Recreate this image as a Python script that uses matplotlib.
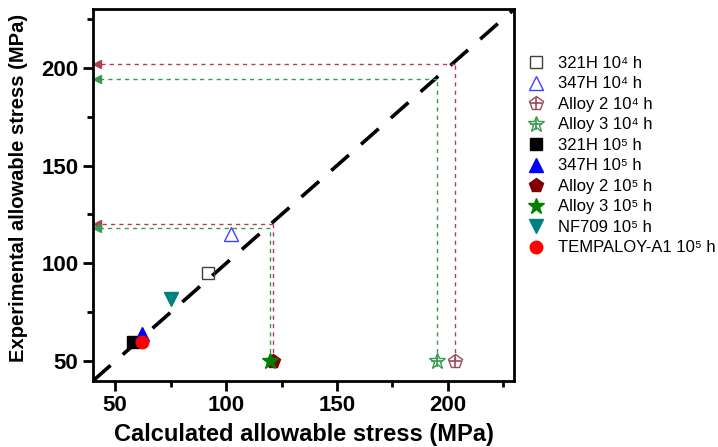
import numpy as np
import matplotlib.pyplot as plt
from matplotlib.legend_handler import HandlerTuple
from matplotlib.ticker import MultipleLocator

plt.rcParams['font.family'] = ['Liberation Sans', 'DejaVu Sans']

# calculated (x) vs experimental (y) allowable stress, MPa
calc_321H_4, exp_321H_4 = [92], [95]
calc_347H_4, exp_347H_4 = [102], [115]
calc_a2_4, exp_a2_4 = [203], [50]
calc_a3_4, exp_a3_4 = [195], [50]
calc_321H_5, exp_321H_5 = [58], [60]
calc_347H_5, exp_347H_5 = [62], [64]
calc_a2_5, exp_a2_5 = [121], [50]
calc_a3_5, exp_a3_5 = [120], [50]
calc_nf709_5, exp_nf709_5 = [75], [82]
calc_temp_5, exp_temp_5 = [62], [60]

# guide lines: (calculated value, read-off value, colour)
guides = [(203, 202, '#b04050'), (195, 194, '#3a9a50'),
          (121, 120, '#b04050'), (120, 118, '#3a9a50')]

labels = ['321H 10⁴ h', '347H 10⁴ h', 'Alloy 2 10⁴ h', 'Alloy 3 10⁴ h',
          '321H 10⁵ h', '347H 10⁵ h', 'Alloy 2 10⁵ h', 'Alloy 3 10⁵ h',
          'NF709 10⁵ h', 'TEMPALOY-A1 10⁵ h']

fig = plt.figure(figsize=(7.18, 4.47), dpi=100)
ax = fig.add_axes([0.1295, 0.148, 0.587, 0.832])

# 1:1 line
ax.plot([40, 230], [40, 230], color='black', lw=2.6, ls=(0, (6.5, 4.5)), zorder=1)

for xc, yv, c in guides:
    ax.plot([xc, xc], [50, yv], color=c, lw=1, ls=(0, (3, 3)), zorder=1)
    ax.plot([xc, 43], [yv, yv], color=c, lw=1, ls=(0, (3, 3)), zorder=1)
    ax.plot([42], [yv], marker='<', color=c, ms=6, zorder=2, clip_on=False)

ms = 9
h = []
h.append(ax.plot(calc_321H_4, exp_321H_4, marker='s', mfc='none', mec='#404040', mew=1, ms=ms, ls='none')[0])
h.append(ax.plot(calc_347H_4, exp_347H_4, marker='^', mfc='none', mec='#4040ff', mew=1, ms=ms+1, ls='none')[0])
p1 = ax.plot(calc_a2_4, exp_a2_4, marker='p', mfc='none', mec='#9a4a5a', mew=1, ms=ms+1, ls='none', zorder=3)[0]
p2 = ax.plot(calc_a2_4, exp_a2_4, marker='+', mec='#9a4a5a', mew=1.2, ms=ms-1, ls='none', zorder=4)[0]
h.append((p1, p2))
s1 = ax.plot(calc_a3_4, exp_a3_4, marker='*', mfc='none', mec='#3a9a50', mew=1, ms=ms+3, ls='none', zorder=3)[0]
s2 = ax.plot(calc_a3_4, exp_a3_4, marker='+', mec='#3a9a50', mew=1.2, ms=ms-1, ls='none', zorder=4)[0]
h.append((s1, s2))
h.append(ax.plot(calc_321H_5, exp_321H_5, marker='s', color='black', ms=ms, ls='none')[0])
h.append(ax.plot(calc_347H_5, exp_347H_5, marker='^', color='#0000ff', ms=ms+1, ls='none')[0])
h.append(ax.plot(calc_a2_5, exp_a2_5, marker='p', color='#800000', ms=ms+1, ls='none')[0])
h.append(ax.plot(calc_a3_5, exp_a3_5, marker='*', color='#008000', ms=ms+3, ls='none')[0])
h.append(ax.plot(calc_nf709_5, exp_nf709_5, marker='v', color='#008080', ms=ms+1, ls='none')[0])
h.append(ax.plot(calc_temp_5, exp_temp_5, marker='o', color='#ff0000', ms=ms, ls='none')[0])

ax.legend(h, labels, handler_map={tuple: HandlerTuple(ndivide=1)},
          loc='upper left', bbox_to_anchor=(1.0, 0.905), frameon=False,
          fontsize=12, handlelength=1.2, handletextpad=0.7, labelspacing=0.33,
          borderaxespad=0.3)

ax.set_xlim(40, 230)
ax.set_ylim(40, 230)
ax.xaxis.set_major_locator(MultipleLocator(50))
ax.xaxis.set_minor_locator(MultipleLocator(25))
ax.yaxis.set_major_locator(MultipleLocator(50))
ax.yaxis.set_minor_locator(MultipleLocator(25))
ax.tick_params(which='major', direction='out', length=7, width=2, labelsize=16)
ax.tick_params(which='minor', direction='out', length=4, width=2)
for t in ax.get_xticklabels() + ax.get_yticklabels():
    t.set_fontweight('bold')
for s in ax.spines.values():
    s.set_linewidth(2)

ax.set_xlabel('Calculated allowable stress (MPa)', fontsize=17, fontweight='bold')
ax.set_ylabel('Experimental allowable stress (MPa)', fontsize=14.5, fontweight='bold')
ax.xaxis.set_label_coords(0.5, -0.113)
ax.yaxis.set_label_coords(-0.154, 0.52)

fig.savefig('out.png', dpi=100)
